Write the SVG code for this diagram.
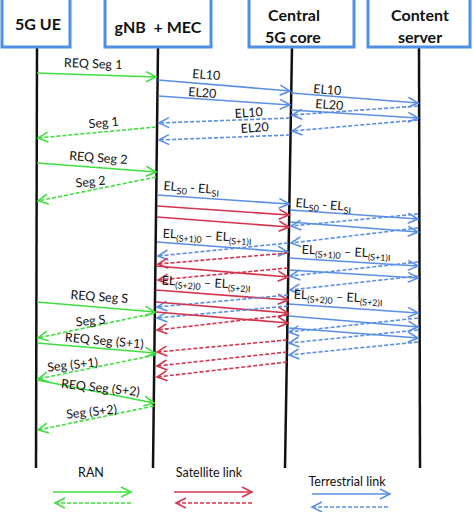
<svg xmlns="http://www.w3.org/2000/svg" width="474" height="512" viewBox="0 0 474 512">
<style>
.box{fill:#fff;stroke:#4f8fe6;stroke-width:3}
.life{stroke:#111;stroke-width:2.5;fill:none}
.hd{font-family:Lato,"Liberation Sans",sans-serif;font-weight:bold;font-size:16px;fill:#111;text-anchor:middle}
.lb{font-family:Lato,"Liberation Sans",sans-serif;font-size:12.5px;fill:#111;text-anchor:middle}
.sb{font-size:9px}
.g{stroke:#3ee03e;stroke-width:1.6;fill:none;marker-end:url(#mg)}
.r{stroke:#d4344e;stroke-width:1.6;fill:none;marker-end:url(#mr)}
.b{stroke:#5a8fe6;stroke-width:1.6;fill:none;marker-end:url(#mb)}
.d{stroke-dasharray:4 2}
</style>
<defs>
<marker id="mg" markerUnits="userSpaceOnUse" markerWidth="14" markerHeight="14" refX="11" refY="6" orient="auto"><path d="M1,1 L11,6 L1,11" fill="none" stroke="#3ee03e" stroke-width="1.6"/></marker>
<marker id="mr" markerUnits="userSpaceOnUse" markerWidth="14" markerHeight="14" refX="11" refY="6" orient="auto"><path d="M1,1 L11,6 L1,11" fill="none" stroke="#d4344e" stroke-width="1.6"/></marker>
<marker id="mb" markerUnits="userSpaceOnUse" markerWidth="14" markerHeight="14" refX="11" refY="6" orient="auto"><path d="M1,1 L11,6 L1,11" fill="none" stroke="#5a8fe6" stroke-width="1.6"/></marker>
</defs>
<rect width="474" height="512" fill="#fff"/>
<g id="lifelines">
<line class="life" x1="37" y1="47" x2="36" y2="468"/>
<line class="life" x1="158" y1="47" x2="153" y2="468"/>
<line class="life" x1="292" y1="47" x2="285" y2="468"/>
<line class="life" x1="419" y1="47" x2="420" y2="468"/>
</g>
<g id="node-ue"><rect class="box" x="2" y="-3" width="68" height="50"/><text class="hd" x="38" y="30">5G UE</text></g>
<g id="node-gnb"><rect class="box" x="105" y="-3" width="106" height="50"/><text class="hd" x="158" y="33" xml:space="preserve">gNB  + MEC</text></g>
<g id="node-core"><rect class="box" x="249" y="-3" width="105" height="50"/><text class="hd" x="294" y="21">Central</text><text class="hd" x="293" y="43">5G core</text></g>
<g id="node-server"><rect class="box" x="368" y="-3" width="102" height="50"/><text class="hd" x="420" y="21">Content</text><text class="hd" x="420" y="43">server</text></g>
<g id="connectors">
<line class="g" x1="37" y1="73" x2="156" y2="77"/>
<line class="g d" x1="156" y1="127" x2="38" y2="138"/>
<line class="g" x1="37" y1="163" x2="156" y2="172"/>
<line class="g d" x1="156" y1="177" x2="38" y2="201"/>
<line class="g" x1="37" y1="302" x2="155" y2="312"/>
<line class="g d" x1="155" y1="313" x2="38" y2="338"/>
<line class="g" x1="37" y1="343" x2="155" y2="353"/>
<line class="g d" x1="155" y1="355" x2="38" y2="379"/>
<line class="g" x1="37" y1="380" x2="154" y2="403"/>
<line class="g d" x1="154" y1="406" x2="38" y2="430"/>
<line class="b" x1="158" y1="80" x2="290" y2="91"/>
<line class="b" x1="158" y1="96" x2="290" y2="105"/>
<line class="b" x1="291" y1="93" x2="418" y2="103"/>
<line class="b" x1="291" y1="110" x2="418" y2="118"/>
<line class="b d" x1="418" y1="106" x2="292" y2="115"/>
<line class="b d" x1="418" y1="120" x2="292" y2="131"/>
<line class="b d" x1="290" y1="118" x2="159" y2="123"/>
<line class="b d" x1="290" y1="135" x2="159" y2="140"/>
<line class="b" x1="157" y1="195" x2="289" y2="204"/>
<line class="r" x1="157" y1="206" x2="289" y2="215"/>
<line class="r" x1="157" y1="217" x2="289" y2="227"/>
<line class="b" x1="157" y1="242" x2="288" y2="252"/>
<line class="b d" x1="288" y1="243" x2="158" y2="256"/>
<line class="r d" x1="288" y1="253" x2="158" y2="264"/>
<line class="r" x1="156" y1="266" x2="288" y2="277"/>
<line class="r d" x1="288" y1="268" x2="158" y2="280"/>
<line class="r" x1="156" y1="290" x2="288" y2="300"/>
<line class="b d" x1="288" y1="295" x2="157" y2="307"/>
<line class="r" x1="156" y1="302" x2="288" y2="313"/>
<line class="b d" x1="288" y1="306" x2="157" y2="318"/>
<line class="r" x1="156" y1="312" x2="288" y2="323"/>
<line class="r d" x1="288" y1="315" x2="157" y2="330"/>
<line class="r d" x1="287" y1="340" x2="157" y2="352"/>
<line class="r d" x1="287" y1="352" x2="157" y2="366"/>
<line class="r d" x1="287" y1="362" x2="157" y2="377"/>
<line class="b" x1="290" y1="210" x2="418" y2="219"/>
<line class="b d" x1="418" y1="214" x2="291" y2="226"/>
<line class="b" x1="290" y1="222" x2="418" y2="232"/>
<line class="b d" x1="418" y1="228" x2="291" y2="243"/>
<line class="b" x1="289" y1="258" x2="418" y2="266"/>
<line class="b d" x1="418" y1="262" x2="290" y2="276"/>
<line class="b" x1="289" y1="270" x2="418" y2="278"/>
<line class="b d" x1="418" y1="276" x2="290" y2="290"/>
<line class="b" x1="289" y1="304" x2="418" y2="313"/>
<line class="b" x1="289" y1="316" x2="418" y2="327"/>
<line class="b d" x1="418" y1="318" x2="289" y2="332"/>
<line class="b" x1="288" y1="328" x2="418" y2="338"/>
<line class="b d" x1="418" y1="330" x2="289" y2="343"/>
<line class="b d" x1="418" y1="342" x2="289" y2="355"/>
</g>
<g id="labels">
<text class="lb" transform="translate(93,68) rotate(2)">REQ Seg 1</text>
<text class="lb" transform="translate(104,127) rotate(-5)">Seg 1</text>
<text class="lb" transform="translate(98,162) rotate(4)">REQ Seg 2</text>
<text class="lb" transform="translate(91,186) rotate(-6)">Seg 2</text>
<text class="lb" transform="translate(99,301) rotate(4)">REQ Seg S</text>
<text class="lb" transform="translate(91,325) rotate(-6)">Seg S</text>
<text class="lb" transform="translate(104,345) rotate(5)">REQ Seg (S+1)</text>
<text class="lb" transform="translate(73,369) rotate(-6)">Seg (S+1)</text>
<text class="lb" transform="translate(100,392) rotate(6)">REQ Seg (S+2)</text>
<text class="lb" transform="translate(92,416) rotate(-6)">Seg (S+2)</text>
<text class="lb" transform="translate(206,79) rotate(4)">EL10</text>
<text class="lb" transform="translate(202,97) rotate(4)">EL20</text>
<text class="lb" transform="translate(327,94) rotate(4)">EL10</text>
<text class="lb" transform="translate(329,109) rotate(4)">EL20</text>
<text class="lb" transform="translate(249,117) rotate(-4)">EL10</text>
<text class="lb" transform="translate(255,132) rotate(-4)">EL20</text>
<text class="lb" transform="translate(191,192) rotate(4)">EL<tspan class="sb" dy="3">S0</tspan><tspan dy="-3"> - EL</tspan><tspan class="sb" dy="3">SI</tspan></text>
<text class="lb" transform="translate(323,209) rotate(4)">EL<tspan class="sb" dy="3">S0</tspan><tspan dy="-3"> - EL</tspan><tspan class="sb" dy="3">SI</tspan></text>
<text class="lb" transform="translate(207,240) rotate(3)">EL<tspan class="sb" dy="3">(S+1)0</tspan><tspan dy="-3"> – EL</tspan><tspan class="sb" dy="3">(S+1)I</tspan></text>
<text class="lb" transform="translate(346,256) rotate(3)">EL<tspan class="sb" dy="3">(S+1)0</tspan><tspan dy="-3"> – EL</tspan><tspan class="sb" dy="3">(S+1)I</tspan></text>
<text class="lb" transform="translate(206,287) rotate(3)">EL<tspan class="sb" dy="3">(S+2)0</tspan><tspan dy="-3"> – EL</tspan><tspan class="sb" dy="3">(S+2)I</tspan></text>
<text class="lb" transform="translate(338,301) rotate(3)">EL<tspan class="sb" dy="3">(S+2)0</tspan><tspan dy="-3"> – EL</tspan><tspan class="sb" dy="3">(S+2)I</tspan></text>
</g>
<g id="legend">
<text class="lb" x="91" y="477">RAN</text>
<text class="lb" x="209" y="477">Satellite link</text>
<text class="lb" x="347" y="486">Terrestrial link</text>
<line class="g" x1="53" y1="492" x2="131" y2="492"/>
<line class="g d" x1="131" y1="503" x2="55" y2="503"/>
<line class="r" x1="174" y1="492" x2="252" y2="492"/>
<line class="r d" x1="252" y1="503" x2="176" y2="503"/>
<line class="b" x1="312" y1="494" x2="390" y2="494"/>
<line class="b d" x1="388" y1="507" x2="312" y2="507"/>
</g>
</svg>
